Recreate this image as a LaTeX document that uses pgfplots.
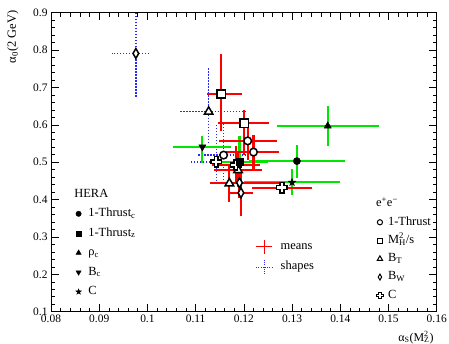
\documentclass[border=0pt]{standalone}
\usepackage{fontspec}
\setmainfont{Liberation Serif}
\usepackage{pgfplots}
\pgfplotsset{compat=1.18}
\usetikzlibrary{plotmarks}

\pgfdeclareplotmark{ocross}{%
  \pgfpathmoveto{\pgfqpoint{-0.36\pgfplotmarksize}{\pgfplotmarksize}}%
  \pgfpathlineto{\pgfqpoint{0.36\pgfplotmarksize}{\pgfplotmarksize}}%
  \pgfpathlineto{\pgfqpoint{0.36\pgfplotmarksize}{0.36\pgfplotmarksize}}%
  \pgfpathlineto{\pgfqpoint{\pgfplotmarksize}{0.36\pgfplotmarksize}}%
  \pgfpathlineto{\pgfqpoint{\pgfplotmarksize}{-0.36\pgfplotmarksize}}%
  \pgfpathlineto{\pgfqpoint{0.36\pgfplotmarksize}{-0.36\pgfplotmarksize}}%
  \pgfpathlineto{\pgfqpoint{0.36\pgfplotmarksize}{-\pgfplotmarksize}}%
  \pgfpathlineto{\pgfqpoint{-0.36\pgfplotmarksize}{-\pgfplotmarksize}}%
  \pgfpathlineto{\pgfqpoint{-0.36\pgfplotmarksize}{-0.36\pgfplotmarksize}}%
  \pgfpathlineto{\pgfqpoint{-\pgfplotmarksize}{-0.36\pgfplotmarksize}}%
  \pgfpathlineto{\pgfqpoint{-\pgfplotmarksize}{0.36\pgfplotmarksize}}%
  \pgfpathlineto{\pgfqpoint{-0.36\pgfplotmarksize}{0.36\pgfplotmarksize}}%
  \pgfpathclose
  \pgfusepathqfillstroke}
\pgfdeclareplotmark{odiam}{%
  \pgfpathmoveto{\pgfqpoint{0pt}{\pgfplotmarksize}}%
  \pgfpathlineto{\pgfqpoint{0.58\pgfplotmarksize}{0pt}}%
  \pgfpathlineto{\pgfqpoint{0pt}{-\pgfplotmarksize}}%
  \pgfpathlineto{\pgfqpoint{-0.58\pgfplotmarksize}{0pt}}%
  \pgfpathclose
  \pgfusepathqfillstroke}
\pgfdeclareplotmark{fstar}{%
  \pgfpathmoveto{\pgfpointpolar{90}{\pgfplotmarksize}}%
  \pgfpathlineto{\pgfpointpolar{126}{0.42\pgfplotmarksize}}%
  \pgfpathlineto{\pgfpointpolar{162}{\pgfplotmarksize}}%
  \pgfpathlineto{\pgfpointpolar{198}{0.42\pgfplotmarksize}}%
  \pgfpathlineto{\pgfpointpolar{234}{\pgfplotmarksize}}%
  \pgfpathlineto{\pgfpointpolar{270}{0.42\pgfplotmarksize}}%
  \pgfpathlineto{\pgfpointpolar{306}{\pgfplotmarksize}}%
  \pgfpathlineto{\pgfpointpolar{342}{0.42\pgfplotmarksize}}%
  \pgfpathlineto{\pgfpointpolar{18}{\pgfplotmarksize}}%
  \pgfpathlineto{\pgfpointpolar{54}{0.42\pgfplotmarksize}}%
  \pgfpathclose
  \pgfusepathqfillstroke}

\definecolor{hgreen}{RGB}{0,230,0}
\definecolor{sblue}{RGB}{40,40,255}
\pgfplotsset{
  base/.style={at={(51bp,32.3bp)}, anchor=south west, width=385.7bp, height=299bp,
    scale only axis, xmin=0.08, xmax=0.16, ymin=0.1, ymax=0.9},
  hid/.style={base, hide axis, legend cell align=left,
    legend style={draw=none, fill=none, font=\fontsize{12.5}{14}\selectfont,
      nodes={text height=9bp, text depth=3.5bp, inner sep=2bp}}},
  rbar/.style={draw=none, mark=none, forget plot, error bars/.cd, x dir=both, x explicit,
    y dir=both, y explicit, error mark=none, error bar style={draw=red, solid, line width=2.2bp}},
  gbar/.style={draw=none, mark=none, forget plot, error bars/.cd, x dir=both, x explicit,
    y dir=both, y explicit, error mark=none, error bar style={draw=hgreen, solid, line width=2.2bp}},
  bbar/.style={draw=none, mark=none, forget plot, error bars/.cd, x dir=both, x explicit,
    y dir=both, y explicit, error mark=none, error bar style={draw=sblue, line width=1.5bp, dash pattern=on 1.3bp off 1.7bp}},
  omk/.style={only marks, forget plot, mark=#1, mark options={draw=black, fill=white, line width=1.5bp, solid}},
  fmk/.style={only marks, forget plot, mark=#1, mark options={draw=black, fill=black, line width=0.5bp, solid}},
  olg/.style={only marks, mark=#1, mark options={draw=black, fill=white, line width=1bp, solid}},
}

\begin{document}
\begin{tikzpicture}
\useasboundingbox (0,0) rectangle (449bp,344bp);
\begin{axis}[base,
  xtick={0.08,0.09,0.10,0.11,0.12,0.13,0.14,0.15,0.16},
  xticklabels={0.08,0.09,0.1,0.11,0.12,0.13,0.14,0.15,0.16},
  ytick={0.1,0.2,0.3,0.4,0.5,0.6,0.7,0.8,0.9},
  yticklabels={0.1,0.2,0.3,0.4,0.5,0.6,0.7,0.8,0.9},
  scaled ticks=false,
  minor x tick num=4, minor y tick num=4,
  tick align=inside, xtick pos=both, ytick pos=both,
  xticklabel pos=bottom, yticklabel pos=left,
  major tick length=7.5bp, minor tick length=3.8bp,
  tick style={black, line width=0.6bp},
  axis line style={line width=1bp},
  tick label style={font=\fontsize{11.5}{13}\selectfont},
  /pgf/number format/assume math mode=true,
  clip=true]
% shapes (blue dotted)
\addplot[bbar] coordinates {
 (0.0976,0.791) += (0.0025,0.15) -= (0.0050,0.117)
 (0.1127,0.635) += (0.0080,0.116) -= (0.0060,0.085)
 (0.1158,0.519) += (0.0053,0.085) -= (0.0053,0.070)
 (0.1143,0.501) += (0.0060,0.103) -= (0.0056,0.053)
};
% HERA (green)
\addplot[gbar] coordinates {
 (0.1310,0.503) += (0.0100,0.044) -= (0.0100,0.044)
 (0.1191,0.501) += (0.0060,0.069) -= (0.0060,0.050)
 (0.1374,0.597) += (0.0106,0.053) -= (0.0106,0.053)
 (0.1114,0.541) += (0.0060,0.029) -= (0.0060,0.043)
 (0.1300,0.446) += (0.0100,0.035) -= (0.0100,0.035)
};
% means (red)
\addplot[rbar] coordinates {
 (0.1153,0.6825) += (0.0043,0.108) -= (0.0030,0.100)
 (0.1201,0.604) += (0.0052,0.035) -= (0.0054,0.085)
 (0.1208,0.557) += (0.0060,0.050) -= (0.0060,0.050)
 (0.1220,0.527) += (0.0052,0.045) -= (0.0056,0.045)
 (0.1183,0.4925) += (0.0050,0.050) -= (0.0050,0.050)
 (0.1188,0.479) += (0.0050,0.045) -= (0.0050,0.045)
 (0.1170,0.4435) += (0.0040,0.050) -= (0.0040,0.050)
 (0.1191,0.445) += (0.0085,0.040) -= (0.0050,0.040)
 (0.1194,0.418) += (0.0026,0.062) -= (0.0026,0.062)
 (0.1279,0.432) += (0.0062,0.012) -= (0.0062,0.012)
};
% markers: e+e- (open)
\addplot[omk=square*, mark size=4.2bp] coordinates {(0.1153,0.6825) (0.1201,0.604)};
\addplot[omk=*, mark size=3.8bp] coordinates {(0.1208,0.557) (0.1220,0.527) (0.1158,0.519)};
\addplot[omk=triangle*, mark size=4.9bp] coordinates {(0.1127,0.635) (0.1188,0.479) (0.1170,0.4435)};
\addplot[omk=odiam, mark size=4.9bp] coordinates {(0.0976,0.791) (0.1191,0.445) (0.1194,0.418)};
\addplot[omk=ocross, mark size=5.2bp] coordinates {(0.1143,0.501) (0.1183,0.4925) (0.1279,0.432)};
% markers: HERA (filled)
\addplot[fmk=*, mark size=3.6bp] coordinates {(0.1310,0.503)};
\addplot[fmk=square*, mark size=3.6bp] coordinates {(0.1191,0.501)};
\addplot[fmk=triangle*, mark size=4.1bp] coordinates {(0.1374,0.597)};
\addplot[fmk=triangle*, mark size=4.1bp, mark options={rotate=180}] coordinates {(0.1114,0.541)};
\addplot[fmk=fstar, mark size=3.8bp] coordinates {(0.1300,0.446)};
\end{axis}
% HERA legend
\begin{axis}[hid, legend style={at={(axis cs:0.0833,0.442)}, anchor=north west, row sep=3bp,
   /tikz/every odd column/.append style={column sep=5bp}}]
\addlegendimage{empty legend}\addlegendentry{\hspace*{-14bp}HERA}
\addlegendimage{only marks, mark=*, mark size=2.7bp, black}\addlegendentry{1-Thrust\textsubscript{c}}
\addlegendimage{only marks, mark=square*, mark size=2.5bp, black}\addlegendentry{1-Thrust\textsubscript{z}}
\addlegendimage{only marks, mark=triangle*, mark size=3bp, black}\addlegendentry{ρ\textsubscript{c}}
\addlegendimage{only marks, mark=triangle*, mark size=3bp, black, mark options={rotate=180}}\addlegendentry{B\textsubscript{c}}
\addlegendimage{only marks, mark=fstar, mark size=2.9bp, black}\addlegendentry{C}
\end{axis}
% e+e- legend
\begin{axis}[hid, legend style={at={(axis cs:0.1458,0.416)}, anchor=north west, row sep=1.75bp,
   /tikz/every odd column/.append style={column sep=3bp}}]
\addlegendimage{empty legend}\addlegendentry{\hspace*{-12bp}e\textsuperscript{+}e\textsuperscript{−}}
\addlegendimage{olg=*, mark size=2.6bp}\addlegendentry{1-Thrust}
\addlegendimage{olg=square*, mark size=2.5bp}\addlegendentry{M\rlap{\textsuperscript{2}}\textsubscript{H}/s}
\addlegendimage{olg=triangle*, mark size=3bp}\addlegendentry{B\textsubscript{T}}
\addlegendimage{olg=odiam, mark size=3bp}\addlegendentry{B\textsubscript{W}}
\addlegendimage{olg=ocross, mark size=3.1bp}\addlegendentry{C}
\end{axis}
% means / shapes legend
\begin{axis}[hid, legend style={at={(axis cs:0.1218,0.302)}, anchor=north west, row sep=4bp,
   /tikz/every odd column/.append style={column sep=6bp}},
  legend image code/.code={\draw[#1] (0cm,0cm) -- (0.56cm,0cm); \draw[#1] (0.28cm,-0.25cm) -- (0.28cm,0.25cm);}]
\addlegendimage{draw=red, line width=1.1bp}\addlegendentry{means}
\addlegendimage{draw=sblue, line width=1.1bp, dash pattern=on 1bp off 1.2bp}\addlegendentry{shapes}
\end{axis}
\node[rotate=90, anchor=east, font=\fontsize{12.5}{14}\selectfont] at (13bp,337bp) {α\textsubscript{0}(2 GeV)};
\node[anchor=base east, font=\fontsize{12}{14}\selectfont] at (437bp,3bp) {α\textsubscript{S}(M\rlap{\textsuperscript{2}}\textsubscript{Z})};
\end{tikzpicture}
\end{document}
